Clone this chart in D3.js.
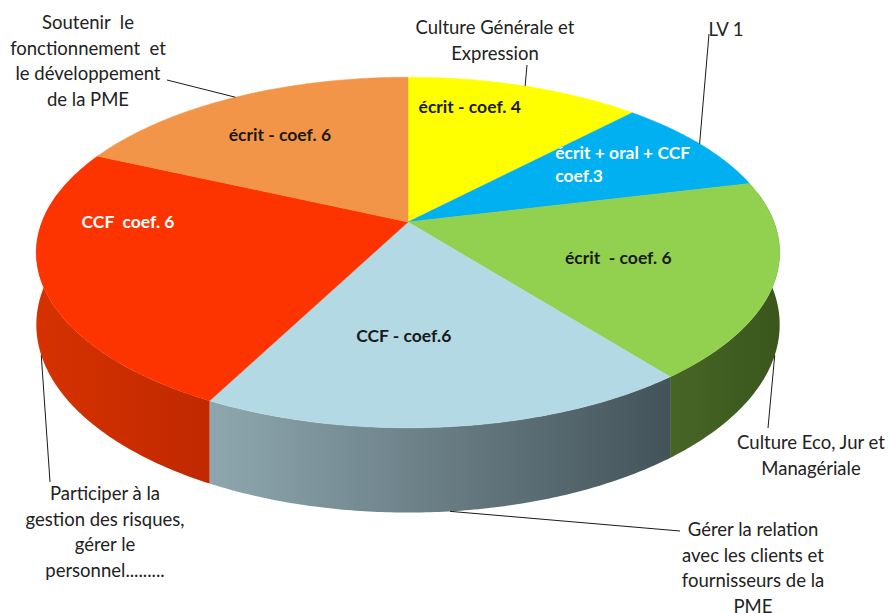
<!DOCTYPE html>
<head>
  <meta charset="utf-8">
  <script src="https://d3js.org/d3.v7.min.js"></script>
  <style>
    body { margin: 0; background: #fff; }
    svg { display: block; }
    text { white-space: pre; }
  </style>
</head>
<body>
  <svg width="891" height="613"></svg>
  <script>
    // slices, clockwise from 12 o'clock
    var categories = [
      "Culture Générale et\nExpression",
      "LV 1",
      "Culture Eco, Jur et\nManagériale",
      "Gérer la relation\navec les clients et\nfournisseurs de la\nPME",
      "Participer à la\ngestion des risques,\ngérer le\npersonnel.........",
      "Soutenir  le\nfonctionnement  et\nle développement\nde la PME"
    ];
    var values = [4, 3, 6, 6, 8, 6];
    var sliceLabels = [
      "écrit - coef. 4",
      "écrit + oral + CCF\ncoef.3",
      "écrit  - coef. 6",
      "CCF - coef.6",
      "CCF  coef. 6",
      "écrit - coef. 6"
    ];

    var topColors = ["#ffff00", "#00b0f0", "#92d050", "#b2d9e4", "#fd3300", "#f29549"];
    var wallColors = [
      ["#b3b300", "#9a9a00"],
      ["#0084b4", "#006d94"],
      ["#476626", "#3a561c"],
      ["#8ea7af", "#44535a"],
      ["#d63200", "#c02800"],
      ["#c06c30", "#a85a25"]
    ];
    var innerTextColor = ["#1a1a1a", "#ffffff", "#1a1a1a", "#1a1a1a", "#ffffff", "#1a1a1a"];

    // where the labels sit: inner label [angle deg, radius], outer label box + leader end
    var innerAt = [[14, 0.79], [60, 0.72], [110, 0.59], [181, 0.60], [270, 0.765], [325.6, 0.68]];
    var outerAt = [
      { x: 495, y: 28, lx: 527, ly: 65 },
      { x: 726, y: 30, lx: 709, ly: 34 },
      { x: 811, y: 443, lx: 768, ly: 428 },
      { x: 753, y: 530, lx: 680, ly: 531 },
      { x: 105, y: 494, lx: 50, ly: 482 },
      { x: 88, y: 23, lx: 167, ly: 80 }
    ];

    // perspective disc
    var cx = 408, cy = 222, A = 366, B = 170, k = 0.174, depth = 70;
    function proj(t, r, drop) {
      var u = r * Math.sin(t), v = r * Math.cos(t), w = 1 + k * v;
      return [cx + A * u / w, cy - B * v / w + (drop ? depth / w : 0)];
    }
    function rim(a0, a1, drop) {
      var n = Math.max(2, Math.ceil((a1 - a0) / 0.01)), pts = [];
      for (var i = 0; i <= n; i++) pts.push(proj(a0 + (a1 - a0) * i / n, 1, drop));
      return pts;
    }
    var line = d3.line();

    var svg = d3.select("svg");
    var defs = svg.append("defs");

    var arcs = d3.pie().sort(null).value(function (d) { return d; })(values);

    // side walls (front half only)
    var lo = 80 * Math.PI / 180, hi = 280 * Math.PI / 180;
    arcs.forEach(function (d, i) {
      var a0 = Math.max(d.startAngle, lo), a1 = Math.min(d.endAngle, hi);
      if (a1 <= a0) return;
      var g = defs.append("linearGradient").attr("id", "wall" + i);
      g.append("stop").attr("offset", 0).attr("stop-color", wallColors[i][0]);
      g.append("stop").attr("offset", 1).attr("stop-color", wallColors[i][1]);
      var pts = rim(a0, a1, false).concat(rim(a0, a1, true).reverse());
      svg.append("path").attr("d", line(pts) + "Z").attr("fill", "url(#wall" + i + ")");
    });

    // top faces
    arcs.forEach(function (d, i) {
      var pts = [[cx, cy]].concat(rim(d.startAngle, d.endAngle, false));
      svg.append("path").attr("d", line(pts) + "Z")
        .attr("fill", topColors[i])
        .attr("stroke", topColors[i]).attr("stroke-width", 0.5);
    });

    // labels on the slices
    arcs.forEach(function (d, i) {
      var p = proj(innerAt[i][0] * Math.PI / 180, innerAt[i][1], false);
      var lines = sliceLabels[i].split("\n");
      var t = svg.append("text")
        .attr("font-family", "Lato, 'Liberation Sans', sans-serif")
        .attr("font-weight", "bold").attr("font-size", 17.5)
        .attr("fill", innerTextColor[i]);
      lines.forEach(function (s, j) {
        t.append("tspan").attr("x", p[0]).attr("y", p[1] + 6 + (j - (lines.length - 1) / 2) * 23).text(s);
      });
      if (lines.length > 1) {
        var w = t.node().getBBox().width;
        t.selectAll("tspan").attr("x", p[0] - w / 2);
      } else {
        t.attr("text-anchor", "middle");
      }
    });

    // category labels with leader lines
    arcs.forEach(function (d, i) {
      var mid = (d.startAngle + d.endAngle) / 2;
      var front = Math.cos(mid) < -0.1;
      var a = proj(mid, 1, front);
      var o = outerAt[i];
      svg.append("path").attr("d", line([a, [o.lx, o.ly]]))
        .attr("stroke", "#1a1a1a").attr("stroke-width", 1).attr("fill", "none");
      var t = svg.append("text")
        .attr("font-family", "Lato, 'Liberation Sans', sans-serif")
        .attr("font-size", 18.5).attr("fill", "#222")
        .attr("text-anchor", "middle");
      categories[i].split("\n").forEach(function (s, j) {
        t.append("tspan").attr("x", o.x).attr("y", o.y + 6 + j * 25.5).text(s);
      });
    });
  </script>
</body>
